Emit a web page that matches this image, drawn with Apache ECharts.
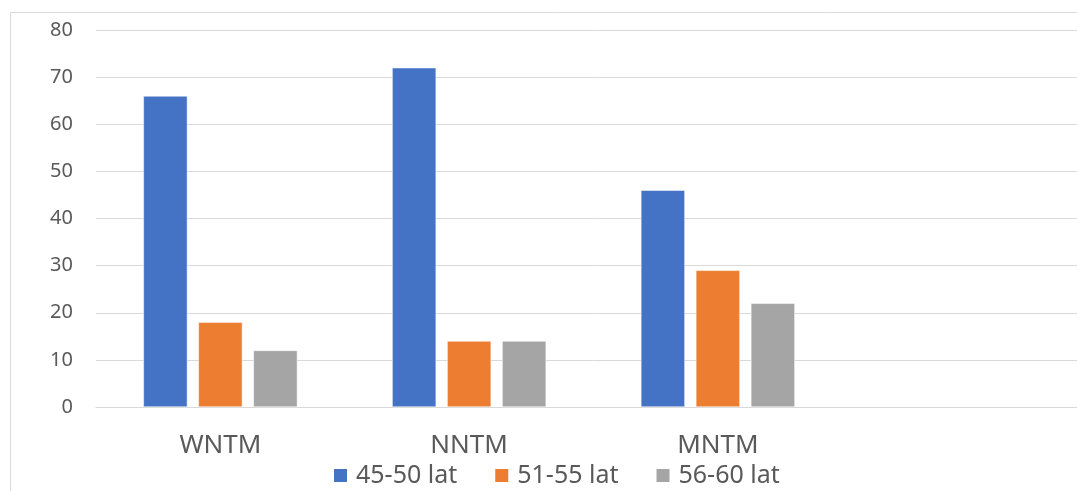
<!DOCTYPE html>
<html>
<head>
<meta charset="utf-8">
<script src="https://cdn.jsdelivr.net/npm/echarts@6/dist/echarts.min.js"></script>
<style>
html,body{margin:0;padding:0;background:#fff;overflow:hidden;width:1077px;height:491px;}
#c{width:1100px;height:491px;}
</style>
</head>
<body>
<div id="c"></div>
<script>
const categories = ['WNTM', 'NNTM', 'MNTM', ''];
const seriesNames = ['45-50 lat', '51-55 lat', '56-60 lat'];
const lat45_50 = [66, 72, 46, null];
const lat51_55 = [18, 14, 29, null];
const lat56_60 = [12, 14, 22, null];
const yTicks = [0, 10, 20, 30, 40, 50, 60, 70, 80];

const colors = ['#4472C4', '#ED7D31', '#A5A5A5'];
const font = 'Noto Sans';
const chart = echarts.init(document.getElementById('c'), null, {renderer: 'canvas'});
const values = [lat45_50, lat51_55, lat56_60];
chart.setOption({
  animation: false,
  textStyle: {fontFamily: font, color: '#595959'},
  graphic: [{
    type: 'rect', left: 8, top: 10, silent: true,
    shape: {width: 1200, height: 600},
    style: {fill: 'none', stroke: '#D9D9D9', lineWidth: 1}
  }],
  grid: {left: 96, top: 30, width: 995, height: 377, containLabel: false},
  legend: {
    left: 332, top: 463, padding: 0,
    itemWidth: 15, itemHeight: 15, itemGap: 36,
    icon: 'rect',
    textStyle: {fontFamily: font, fontSize: 25, color: '#595959', padding: [0, 0, 0, 3]},
    data: seriesNames
  },
  xAxis: {
    type: 'category', data: categories,
    axisLine: {lineStyle: {color: '#D9D9D9', width: 1}},
    axisTick: {show: false},
    axisLabel: {fontFamily: font, fontSize: 26, color: '#595959', margin: 26, interval: 0}
  },
  yAxis: {
    type: 'value', min: yTicks[0], max: yTicks[yTicks.length - 1], interval: 10,
    axisLine: {show: false}, axisTick: {show: false},
    splitLine: {lineStyle: {color: '#D9D9D9', width: 1}},
    axisLabel: {fontFamily: font, fontSize: 20, color: '#595959', margin: 23}
  },
  series: seriesNames.map((n, i) => ({
    name: n, type: 'bar', data: values[i],
    barWidth: 44, barGap: '25%',
    itemStyle: {color: colors[i], borderColor: '#fff', borderWidth: 0.5}
  }))
});
</script>
</body>
</html>
